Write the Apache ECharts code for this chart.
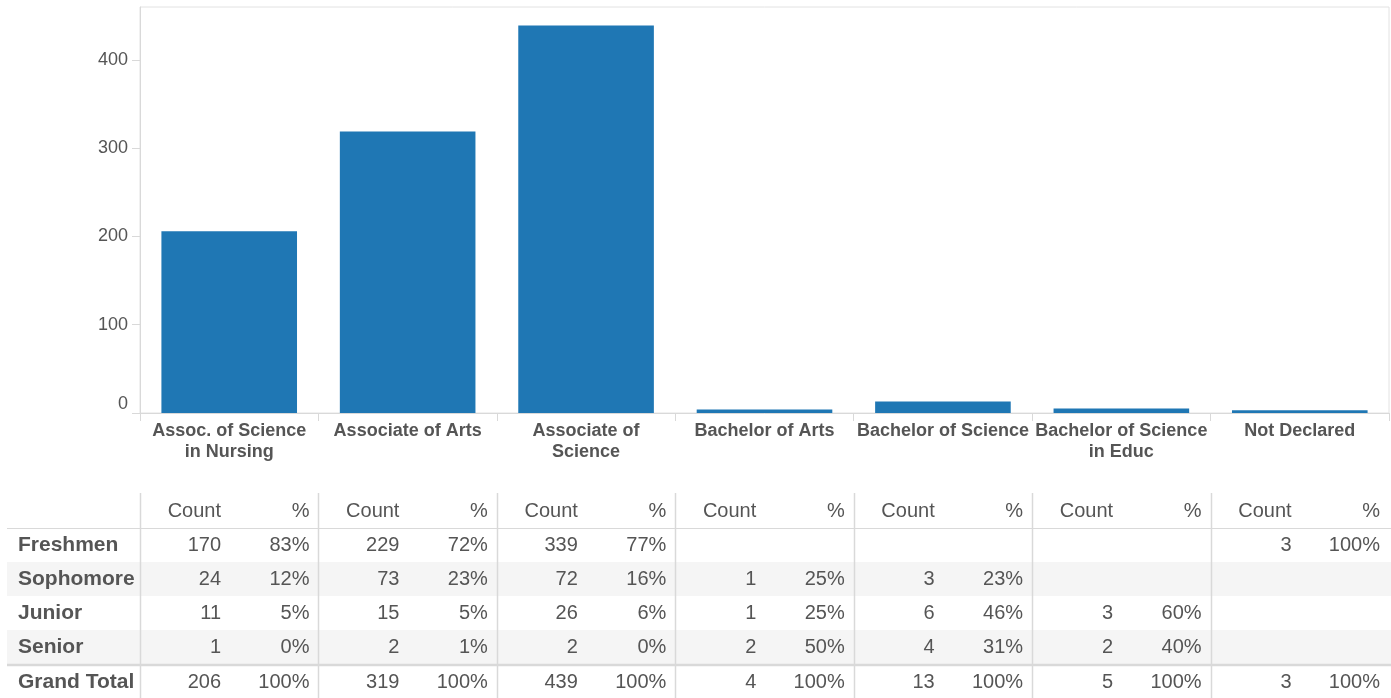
<!DOCTYPE html>
<html>
<head>
<meta charset="utf-8">
<style>
  html, body { margin: 0; padding: 0; background: #fff; }
  #chart { width: 1391px; height: 698px; }
</style>
<script src="https://cdn.jsdelivr.net/npm/echarts@6/dist/echarts.min.js"></script>
</head>
<body>
<div id="chart"></div>
<script>
// Degree programs and total enrolment per program
const categories = ['Assoc. of Science in Nursing', 'Associate of Arts', 'Associate of Science',
  'Bachelor of Arts', 'Bachelor of Science', 'Bachelor of Science in Educ', 'Not Declared'];
const tickLabels = ['Assoc. of Science\nin Nursing', 'Associate of Arts', 'Associate of\nScience',
  'Bachelor of Arts', 'Bachelor of Science', 'Bachelor of Science\nin Educ', 'Not Declared'];
const totals = [206, 319, 439, 4, 13, 5, 3];
const yTicks = [0, 100, 200, 300, 400];

// Breakdown by class level (null = no students)
const levels = ['Freshmen', 'Sophomore', 'Junior', 'Senior'];
const freshmenCount = [170, 229, 339, null, null, null, 3];
const freshmenPct = [83, 72, 77, null, null, null, 100];
const sophomoreCount = [24, 73, 72, 1, 3, null, null];
const sophomorePct = [12, 23, 16, 25, 23, null, null];
const juniorCount = [11, 15, 26, 1, 6, 3, null];
const juniorPct = [5, 5, 6, 25, 46, 60, null];
const seniorCount = [1, 2, 2, 2, 4, 2, null];
const seniorPct = [0, 1, 0, 50, 31, 40, null];
const totalPct = [100, 100, 100, 100, 100, 100, 100];

const levelRows = [
  [freshmenCount, freshmenPct],
  [sophomoreCount, sophomorePct],
  [juniorCount, juniorPct],
  [seniorCount, seniorPct]
];

const TEXT = '#555555';
const LINE = '#d9d9d9';
const FONT = 'Liberation Sans, Arial, sans-serif';

const chart = echarts.init(document.getElementById('chart'), null, { renderer: 'canvas' });

chart.setOption({
  animation: false,
  grid: {
    left: 140, right: 2, top: 7, bottom: 285,
    show: true, borderColor: '#e2e2e2', borderWidth: 1, backgroundColor: 'transparent'
  },
  xAxis: {
    type: 'category',
    data: categories,
    axisLine: { lineStyle: { color: LINE, width: 1 } },
    axisTick: { show: true, length: 8, lineStyle: { color: LINE } },
    axisLabel: {
      interval: 0,
      margin: 8,
      color: TEXT,
      fontFamily: FONT,
      fontWeight: 'bold',
      fontSize: 18,
      lineHeight: 21,
      formatter: (v, i) => tickLabels[i]
    }
  },
  yAxis: {
    type: 'value',
    min: 0,
    max: 460,
    interval: 100,
    splitLine: { show: false },
    axisLine: { show: true, lineStyle: { color: LINE } },
    axisTick: { show: true, length: 8, lineStyle: { color: LINE }, customValues: yTicks },
    axisLabel: {
      color: TEXT,
      fontFamily: FONT,
      fontSize: 18,
      margin: 12,
      customValues: yTicks,
      verticalAlignMinLabel: 'bottom'
    }
  },
  series: [{
    type: 'bar',
    data: totals,
    barWidth: '76%',
    itemStyle: { color: '#1f77b4' }
  }]
});

// Cross-tab beneath the bars, laid out on the x axis category slots
function buildTable() {
  const centers = categories.map((c, i) => chart.convertToPixel({ xAxisIndex: 0 }, i));
  const slot = centers.length > 1 ? centers[1] - centers[0] : 178;
  const lefts = centers.map(c => c - slot / 2);
  const W = 1391;
  const headerY = 511;
  const rowYs = [545, 579, 613, 647];
  const totalY = 682;
  const els = [];

  // striped rows
  [[562, 596], [630, 664]].forEach(([y0, y1]) => {
    els.push({ type: 'rect', shape: { x: 7, y: y0, width: W - 7, height: y1 - y0 },
      style: { fill: '#f5f5f5' }, silent: true, z: 0 });
  });
  // header rule and grand-total rule
  els.push({ type: 'line', shape: { x1: 7, y1: 528.5, x2: W, y2: 528.5 },
    style: { stroke: LINE, lineWidth: 1 }, z: 1 });
  els.push({ type: 'line', shape: { x1: 7, y1: 665, x2: W, y2: 665 },
    style: { stroke: LINE, lineWidth: 2.5 }, z: 1 });
  // column separators
  lefts.forEach(x => {
    const xx = Math.round(x) + 0.5;
    els.push({ type: 'line', shape: { x1: xx, y1: 493, x2: xx, y2: 698 },
      style: { stroke: LINE, lineWidth: 1.5 }, z: 1 });
  });

  const txt = (x, y, s, align, bold, size) => ({
    type: 'text', x: x, y: y, z: 2, silent: true,
    style: { text: s, fill: TEXT, font: (bold ? 'bold ' : '') + size + 'px ' + FONT,
      align: align, verticalAlign: 'middle' }
  });

  // row headers
  levels.forEach((name, r) => els.push(txt(18, rowYs[r], name, 'left', true, 21)));
  els.push(txt(18, totalY, 'Grand Total', 'left', true, 21));

  lefts.forEach((x, i) => {
    const right = x + slot;
    const cx = x + 81;
    const px = right - 9;
    els.push(txt(cx, headerY, 'Count', 'right', false, 20));
    els.push(txt(px, headerY, '%', 'right', false, 20));
    levelRows.forEach(([cnt, pct], r) => {
      if (cnt[i] != null) {
        els.push(txt(cx, rowYs[r], String(cnt[i]), 'right', false, 20));
        els.push(txt(px, rowYs[r], pct[i] + '%', 'right', false, 20));
      }
    });
    els.push(txt(cx, totalY, String(totals[i]), 'right', false, 20));
    els.push(txt(px, totalY, totalPct[i] + '%', 'right', false, 20));
  });

  chart.setOption({ graphic: { elements: els } });
}
buildTable();
</script>
</body>
</html>
